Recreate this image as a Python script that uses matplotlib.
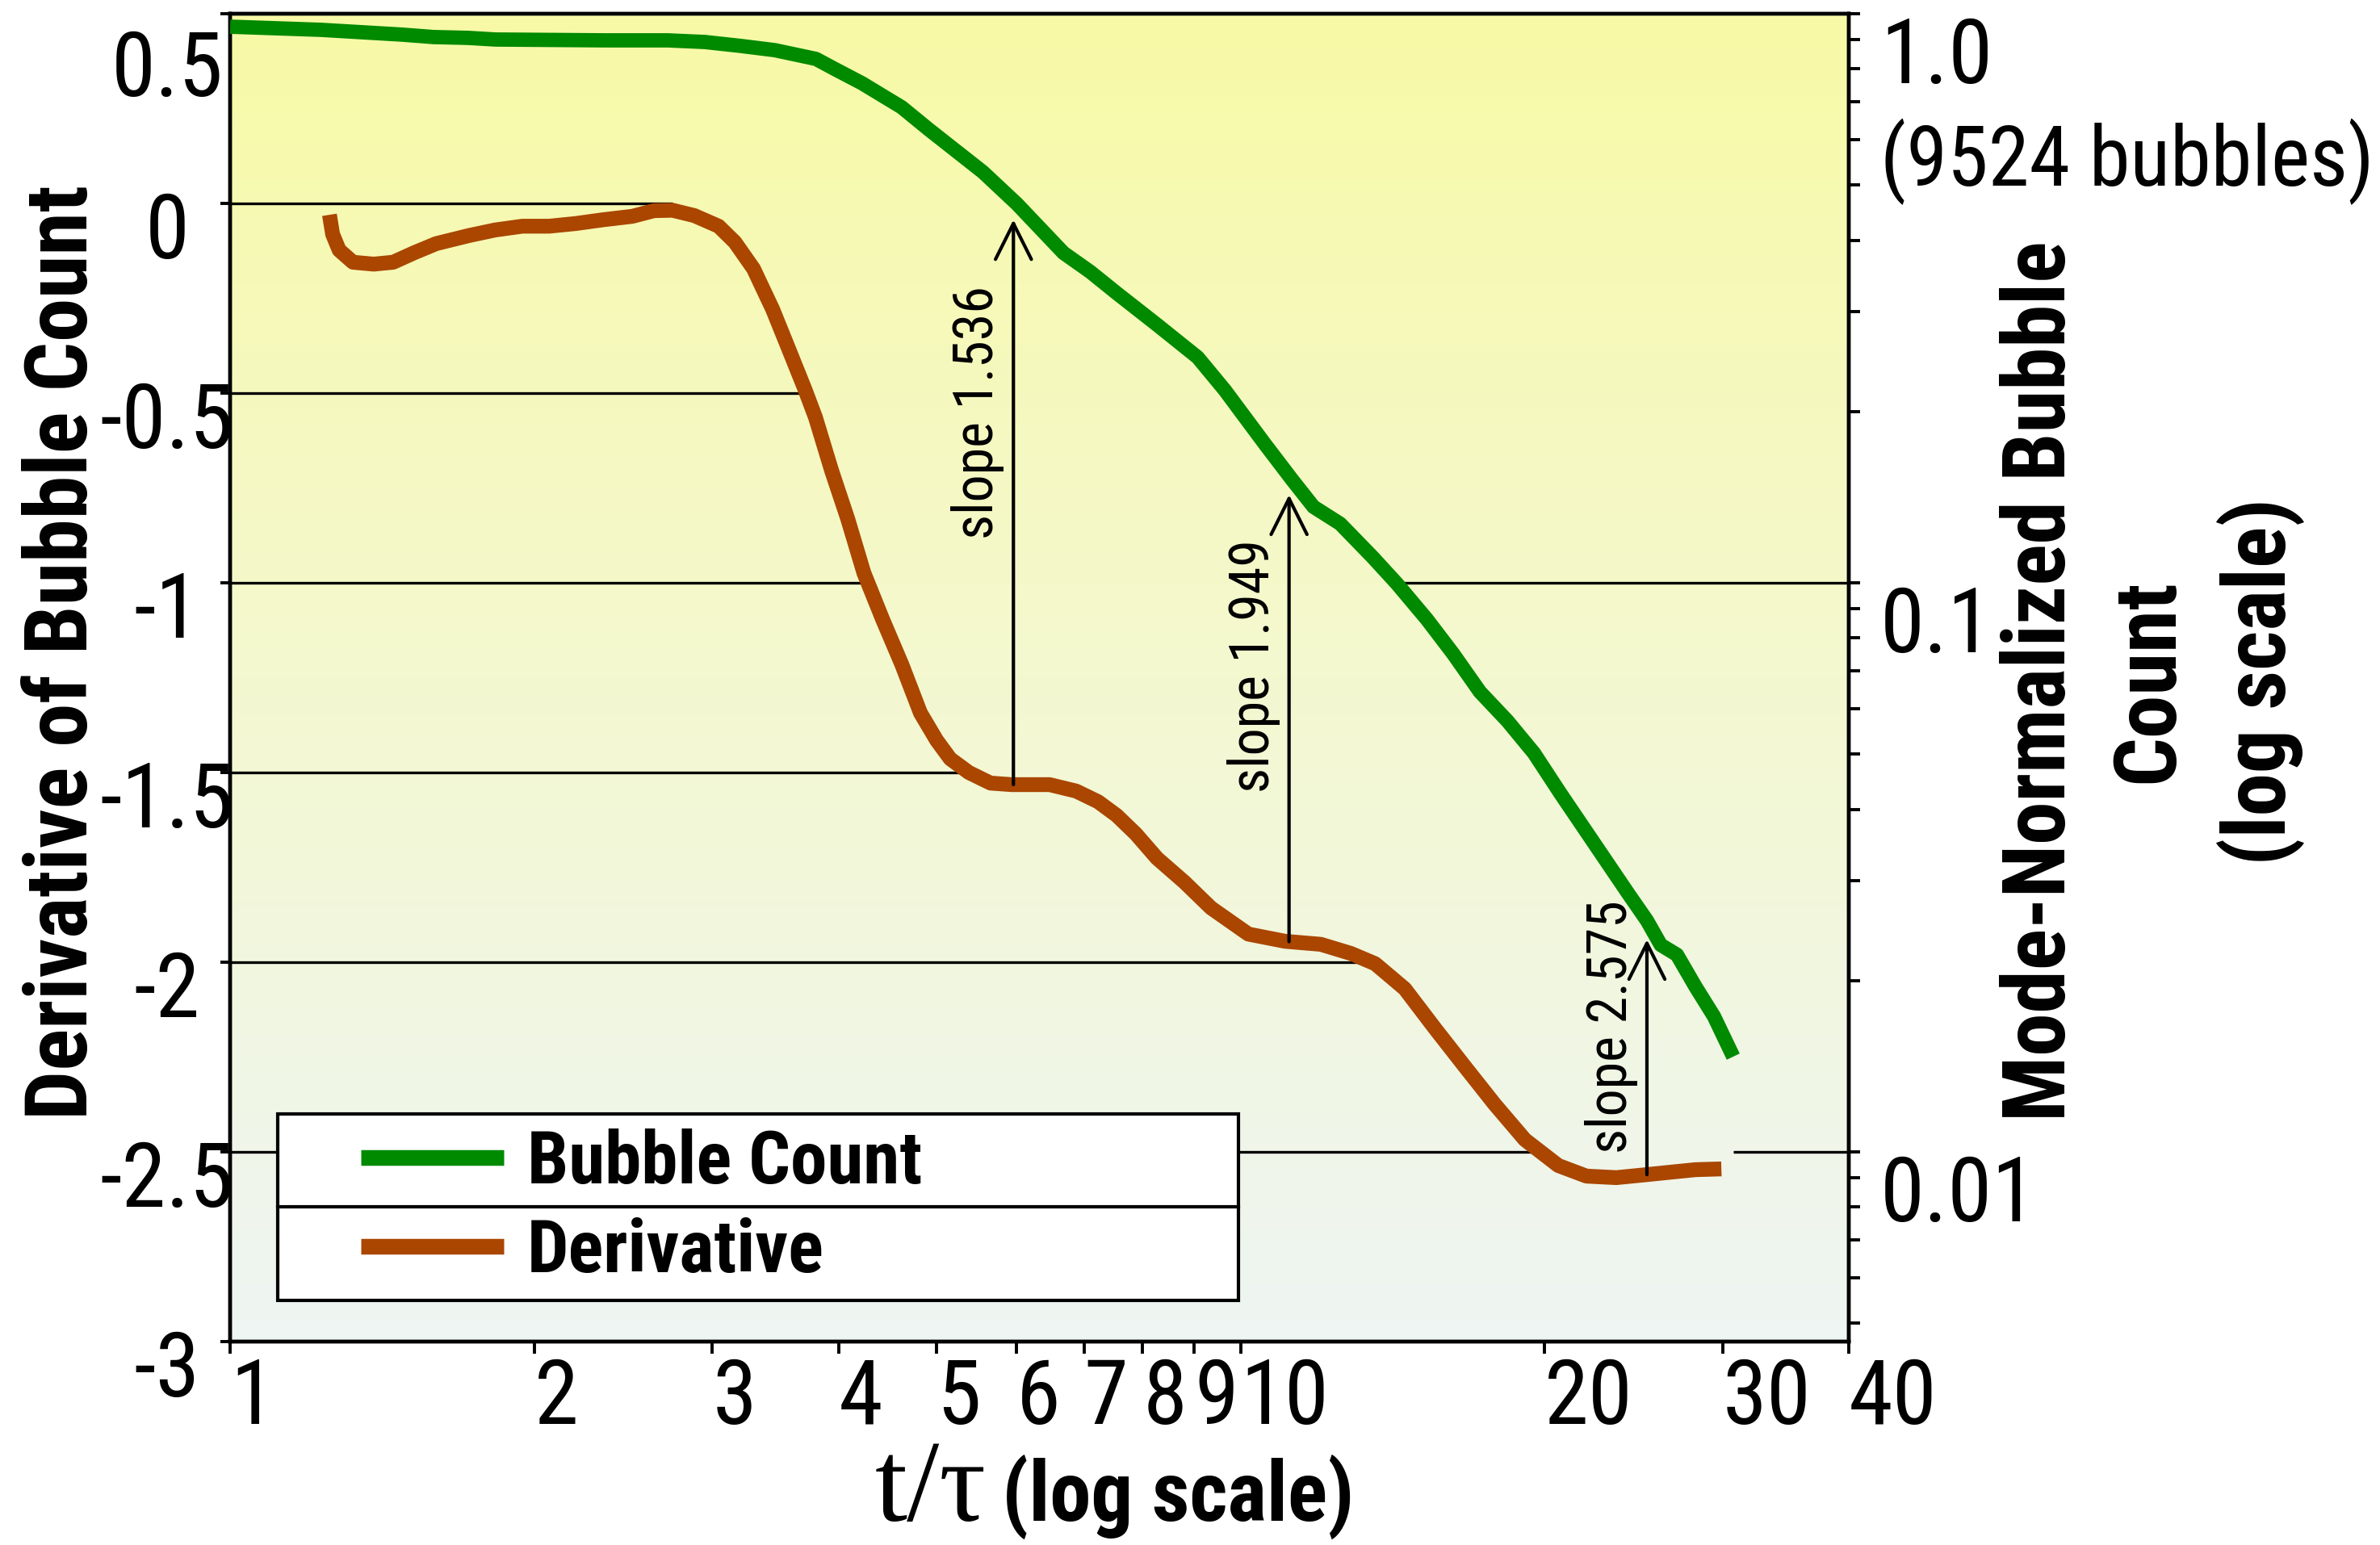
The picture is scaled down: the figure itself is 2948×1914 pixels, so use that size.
import numpy as np
import matplotlib
matplotlib.use('Agg')
import matplotlib.pyplot as plt
from matplotlib import font_manager
from matplotlib.ticker import FixedLocator, NullLocator, LogLocator, NullFormatter
from matplotlib.transforms import ScaledTranslation
from matplotlib.patches import Rectangle
from matplotlib.lines import Line2D

# Bubble count (right axis, mode-normalized, log scale)
count_t = [1.00, 1.23, 1.48, 1.59, 1.72, 1.83, 2.35, 2.71, 2.95, 3.20, 3.46,
           3.80, 3.96, 4.22, 4.62, 4.91, 5.56, 6.01, 6.68, 7.10, 7.54, 8.27,
           9.07, 9.65, 10.58, 11.24, 11.81, 12.55, 13.51, 14.28, 15.29, 16.24,
           17.26, 18.37, 19.52, 20.74, 22.33, 24.21, 25.25, 26.06, 27.04,
           28.21, 29.42, 30.74]
count_v = [0.949, 0.937, 0.919, 0.910, 0.907, 0.901, 0.898, 0.898, 0.892,
           0.878, 0.863, 0.833, 0.801, 0.755, 0.685, 0.627, 0.527, 0.463,
           0.380, 0.352, 0.323, 0.284, 0.249, 0.218, 0.175, 0.152, 0.136,
           0.127, 0.111, 0.0997, 0.0863, 0.0750, 0.0643, 0.0572, 0.0502,
           0.0426, 0.0351, 0.0284, 0.0255, 0.0231, 0.0222, 0.0195, 0.0173,
           0.0147]

# Derivative of the bubble count (left axis)
deriv_t = [1.254, 1.263, 1.282, 1.323, 1.387, 1.450, 1.521, 1.599, 1.721,
           1.829, 1.947, 2.069, 2.198, 2.340, 2.500, 2.628, 2.741, 2.880,
           3.044, 3.159, 3.296, 3.443, 3.573, 3.707, 3.796, 3.938, 4.086,
           4.239, 4.423, 4.621, 4.822, 5.003, 5.161, 5.384, 5.657, 5.934,
           6.471, 6.876, 7.228, 7.540, 7.879, 8.267, 8.800, 9.350, 10.18,
           11.07, 12.01, 12.86, 13.59, 14.54, 15.57, 16.66, 17.84, 19.12,
           20.63, 22.00, 23.55, 25.25, 26.79, 28.21, 29.92]
deriv_v = [-0.030, -0.081, -0.123, -0.155, -0.160, -0.155, -0.130, -0.106,
           -0.085, -0.070, -0.060, -0.060, -0.053, -0.043, -0.034, -0.019,
           -0.018, -0.032, -0.060, -0.102, -0.172, -0.279, -0.385, -0.491,
           -0.564, -0.704, -0.832, -0.974, -1.096, -1.215, -1.343, -1.415,
           -1.464, -1.500, -1.528, -1.532, -1.532, -1.549, -1.577, -1.613,
           -1.662, -1.726, -1.789, -1.857, -1.926, -1.945, -1.953, -1.977,
           -2.004, -2.070, -2.174, -2.274, -2.374, -2.468, -2.536, -2.564,
           -2.568, -2.560, -2.553, -2.547, -2.545]

x_ticks = [1, 2, 3, 4, 5, 6, 7, 8, 9, 10, 20, 30, 40]
left_ticks = [0.5, 0, -0.5, -1, -1.5, -2, -2.5, -3]
left_labels = ['0.5', '0', '-0.5', '-1', '-1.5', '-2', '-2.5', '-3']
right_ticks = [1.0, 0.1, 0.01]
right_labels = ['1.0', '0.1', '0.01']
drop_left = [0, -0.5, -1, -1.5, -2, -2.5]
drop_right = [0.1, 0.01]

slope_t = [5.96, 11.17, 25.25]
slope_labels = ['slope 1.536', 'slope 1.949', 'slope 2.575']
slope_label_y = [-0.55, -1.22, -2.17]

GREEN = '#008a00'
BROWN = '#aa4600'

# fonts: the original uses a condensed Arial-like face
installed = {f.name for f in font_manager.fontManager.ttflist}
sans, k = 'Liberation Sans', 0.82
for name in ['Liberation Sans Narrow', 'Arial Narrow', 'Roboto Condensed',
             'Archivo Narrow', 'PT Sans Narrow']:
    if name in installed:
        sans, k = name, 1.0
        break
fs_tick = 40 * k
fs_title = 39 * k
fs_ytitle2 = 38.5 * k
fs_leg = 32.8 * k
fs_slope = 24.5 * k
fs_note = 37 * k
fs_xl = 39.5 * k if k < 1 else 37


def crossing(t, y, level):
    # first t (after the peak) where the curve drops through level
    t = np.asarray(t, float)
    y = np.asarray(y, float)
    lt = np.log10(t)
    i0 = int(np.argmax(y))
    if level >= y[i0]:
        return t[i0]
    for i in range(i0, len(y) - 1):
        if y[i] >= level > y[i + 1]:
            f = (y[i] - level) / (y[i] - y[i + 1])
            return 10 ** (lt[i] + f * (lt[i + 1] - lt[i]))
    return t[-1]


fig = plt.figure(figsize=(14.74, 9.57), dpi=200)
pos = [0.0967, 0.1317, 0.6801, 0.8594]

# gradient background behind the plot area
bg = fig.add_axes(pos, zorder=-1)
top = np.array([248, 250, 166]) / 255
mid = np.array([244, 248, 208]) / 255
bot = np.array([238, 245, 243]) / 255
s = np.linspace(0, 1, 256)[:, None]
grad = np.where(s < 0.5, top + (mid - top) * (s / 0.5),
                mid + (bot - mid) * ((s - 0.5) / 0.5))
bg.imshow(grad[:, None, :], aspect='auto', extent=(0, 1, 0, 1))
bg.axis('off')

ax = fig.add_axes(pos)
ax.patch.set_visible(False)
ax2 = ax.twinx()

ax.set_xscale('log')
ax.set_xlim(1, 40)
ax.set_ylim(-3, 0.5)
ax2.set_yscale('log')
ax2.set_ylim(10 ** (-3.5 / 1.5), 1)

# drop lines from the axes to the curves
for lv in drop_left:
    ax.hlines(lv, 1, crossing(deriv_t, deriv_v, lv), color='black',
              lw=1.2, zorder=2)
for lv in drop_right:
    tc = crossing(count_t, np.log10(count_v), np.log10(lv))
    ax2.hlines(lv, tc, 40, color='black', lw=1.2, zorder=2)

d_line, = ax.plot(deriv_t, deriv_v, color=BROWN, lw=6.6,
                  solid_capstyle='butt', zorder=3)
g_line, = ax2.plot(count_t, count_v, color=GREEN, lw=6.4,
                   solid_capstyle='butt', zorder=3)

# slope arrows: from the derivative up to the bubble count
lt_s = np.log10(slope_t)
g_at = 10 ** np.interp(lt_s, np.log10(count_t), np.log10(count_v))
d_at = np.interp(lt_s, np.log10(deriv_t), deriv_v)
shift = ScaledTranslation(-4 / 72, 0, fig.dpi_scale_trans)
for st, g, d, lab, ly in zip(slope_t, g_at, d_at, slope_labels, slope_label_y):
    ax.annotate('', xy=(st, g), xycoords=ax2.transData,
                xytext=(st, d), textcoords='data',
                arrowprops=dict(arrowstyle='->', color='black', lw=1.5,
                                shrinkA=0, shrinkB=8.5, mutation_scale=40),
                zorder=4)
    ax.text(st, ly, lab, rotation=90, rotation_mode='anchor', ha='center',
            va='bottom', fontsize=fs_slope, family=sans,
            transform=ax.transData + shift, zorder=4)

# ticks
ax.xaxis.set_major_locator(FixedLocator(x_ticks))
ax.xaxis.set_minor_locator(NullLocator())
ax.set_xticklabels([str(v) for v in x_ticks])
ax.set_yticks(left_ticks, left_labels)
ax2.set_yticks(right_ticks, right_labels)
ax2.yaxis.set_minor_locator(LogLocator(base=10, subs=np.arange(2, 10)))
ax2.yaxis.set_minor_formatter(NullFormatter())

ax.tick_params(axis='x', direction='out', length=5.4, width=1.4, pad=1,
               labelsize=fs_tick, labelfontfamily=sans)
ax.tick_params(axis='y', direction='out', length=4.3, width=1.4, pad=23.8,
               labelsize=fs_tick, labelfontfamily=sans)
ax2.tick_params(axis='y', which='both', direction='out', length=5, width=1.4,
                pad=9, labelsize=fs_tick, labelfontfamily=sans)

for sp in list(ax.spines.values()) + list(ax2.spines.values()):
    sp.set_linewidth(1.6)

for lab in ax.get_xticklabels():
    lab.set_ha('left')
for i, lab in enumerate(ax.get_yticklabels()):
    lab.set_ha('center')
    dy = -21.5 if i == 0 else -9.4   # the top label sits lower in the original
    lab.set_transform(lab.get_transform() +
                      ScaledTranslation(0, dy / 72, fig.dpi_scale_trans))
down_r = ScaledTranslation(0, -16 / 72, fig.dpi_scale_trans)
for lab in ax2.get_yticklabels():
    lab.set_transform(lab.get_transform() + down_r)

ax2.annotate('(9524 bubbles)', xy=(1, right_ticks[0]),
             xycoords=('axes fraction', 'data'), xytext=(14, -66),
             textcoords='offset points', ha='left', va='center',
             fontsize=fs_note, family=sans, annotation_clip=False)

# legend: white box with a divider between the two entries
fs_px = fs_leg * 200 / 72
box = Rectangle((0.0294, 0.031), 0.5936, 0.1404, transform=ax.transAxes,
                facecolor='white', edgecolor='black', lw=1.5, zorder=5)
ax.add_patch(box)
ax.add_line(Line2D([0.0294, 0.623], [0.1015, 0.1015], transform=ax.transAxes,
                   color='black', lw=1.5, zorder=5.5))
top_px = 1449 - 0.56 * fs_px
leg = ax.legend([g_line, d_line], ['Bubble Count', 'Derivative'],
                loc='upper left',
                bbox_to_anchor=((447 - 285) / 2005, (1662 - top_px) / 1645),
                borderpad=0, borderaxespad=0, frameon=False,
                handlelength=177 / fs_px, handletextpad=29 / fs_px,
                labelspacing=126 / fs_px - 1.12,
                prop={'family': sans, 'weight': 'bold', 'size': fs_leg})
leg.set_zorder(6)
for h in leg.legend_handles:
    h.set_linewidth(7)

# axis titles
fig.text(0.0265, 0.578, 'Derivative of Bubble Count', rotation=90,
         ha='center', va='center', fontsize=fs_title, fontweight='bold',
         family=sans)
fig.text(0.9043, 0.559, 'Mode-Normalized Bubble\nCount\n(log scale)',
         rotation=90, ha='center', va='center', multialignment='center',
         linespacing=1.62 if k < 1 else 1.38, fontsize=fs_ytitle2,
         fontweight='bold', family=sans)
fig.text(0.4145, 0.0157, 't/\u03c4', ha='right', va='baseline',
         fontsize=52, family='Liberation Serif')
fig.text(0.421, 0.0157, '(log scale)', ha='left', va='baseline',
         fontsize=fs_xl, fontweight='bold', family=sans)

fig.savefig('out.png', dpi=200)
